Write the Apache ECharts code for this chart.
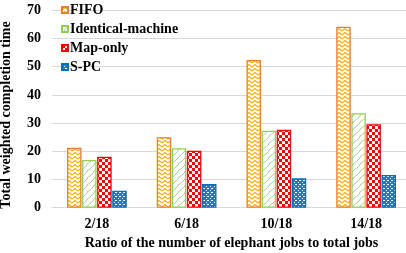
<!DOCTYPE html>
<html><head><meta charset="utf-8">
<script src="https://cdn.jsdelivr.net/npm/echarts@6/dist/echarts.min.js"></script>
<style>html,body{margin:0;padding:0;background:#fff}#c{width:406px;height:253px}</style>
</head><body><div id="c"></div>
<script>
const categories = ['2/18', '6/18', '10/18', '14/18'];
const fifo = [21.3, 25.0, 52.4, 64.2];
const identical = [16.9, 21.1, 27.3, 33.5];
const mapOnly = [18.1, 20.2, 27.6, 29.6];
const spc = [6.0, 8.4, 10.4, 11.6];
const seriesNames = ['FIFO', 'Identical-machine', 'Map-only', 'S-PC'];
const yTicks = [0, 10, 20, 30, 40, 50, 60, 70];

function tile(w, h, draw) {
  const c = document.createElement('canvas');
  c.width = w; c.height = h;
  const g = c.getContext('2d');
  draw(g);
  return { image: c, repeat: 'repeat' };
}
const zigzag = tile(6, 4, g => {
  g.fillStyle = '#fff'; g.fillRect(0, 0, 6, 4);
  g.strokeStyle = '#F5B000'; g.lineWidth = 1.2;
  g.beginPath(); g.moveTo(0, 3); g.lineTo(3, 0.5); g.lineTo(6, 3); g.stroke();
});
const hatch = tile(7, 7, g => {
  g.fillStyle = '#fff'; g.fillRect(0, 0, 7, 7);
  g.strokeStyle = '#A9D18E'; g.lineWidth = 1;
  g.beginPath(); g.moveTo(0, 7); g.lineTo(3, 4); g.lineTo(3, 3); g.lineTo(7, 0); g.stroke();
});
const checker = tile(6, 6, g => {
  g.fillStyle = '#fff'; g.fillRect(0, 0, 6, 6);
  g.fillStyle = '#FF0000'; g.fillRect(0, 0, 3, 3); g.fillRect(3, 3, 3, 3);
});
const dots = tile(4, 4, g => {
  g.fillStyle = '#1F78C8'; g.fillRect(0, 0, 4, 4);
  g.fillStyle = '#fff'; g.fillRect(0, 0, 1, 1); g.fillRect(2, 2, 1, 1); g.fillRect(3, 0, 1, 1);
});

const fills = [zigzag, hatch, checker, dots];
const borders = ['#ED7D31', '#92D050', '#FF0000', '#0070C0'];
const datas = [fifo, identical, mapOnly, spc];
const font = '"Liberation Serif", "Times New Roman", serif';

const chart = echarts.init(document.getElementById('c'), null, { renderer: 'canvas' });
chart.setOption({
  animation: false,
  grid: { left: 52, top: 10.3, bottom: 45.3, width: 359, containLabel: false, outerBoundsMode: 'none' },
  legend: {
    orient: 'vertical', left: 56, top: -2, itemWidth: 6, itemHeight: 6, itemGap: 5,
    icon: 'rect',
    textStyle: { fontFamily: font, fontWeight: 'bold', fontSize: 14, color: '#000', padding: [0, 0, 0, -3] },
    data: seriesNames
  },
  xAxis: {
    type: 'category', data: categories,
    axisLine: { show: true, lineStyle: { color: '#d9d9d9' } },
    axisTick: { show: false },
    axisLabel: { fontFamily: font, fontWeight: 'bold', fontSize: 14, color: '#000', margin: 10 },
    name: 'Ratio of the number of elephant jobs to total jobs',
    nameLocation: 'middle', nameGap: 27,
    nameTextStyle: { fontFamily: font, fontWeight: 'bold', fontSize: 14, color: '#000' }
  },
  yAxis: {
    type: 'value', min: yTicks[0], max: yTicks[yTicks.length - 1], interval: 10,
    axisLine: { show: false }, axisTick: { show: false },
    splitLine: { lineStyle: { color: '#d9d9d9', width: 1 } },
    axisLabel: { fontFamily: font, fontWeight: 'bold', fontSize: 14, color: '#000', margin: 11 },
    name: 'Total weighted completion time',
    nameLocation: 'middle', nameGap: 39, nameRotate: 90,
    nameTextStyle: { fontFamily: font, fontWeight: 'bold', fontSize: 14, color: '#000', padding: [0, 12, 0, 0] }
  },
  series: seriesNames.map((n, i) => ({
    name: n, type: 'bar', data: datas[i], barWidth: 14.5, barGap: '4%',
    itemStyle: { color: fills[i], borderColor: borders[i], borderWidth: 1.3 }
  }))
});
</script></body></html>
